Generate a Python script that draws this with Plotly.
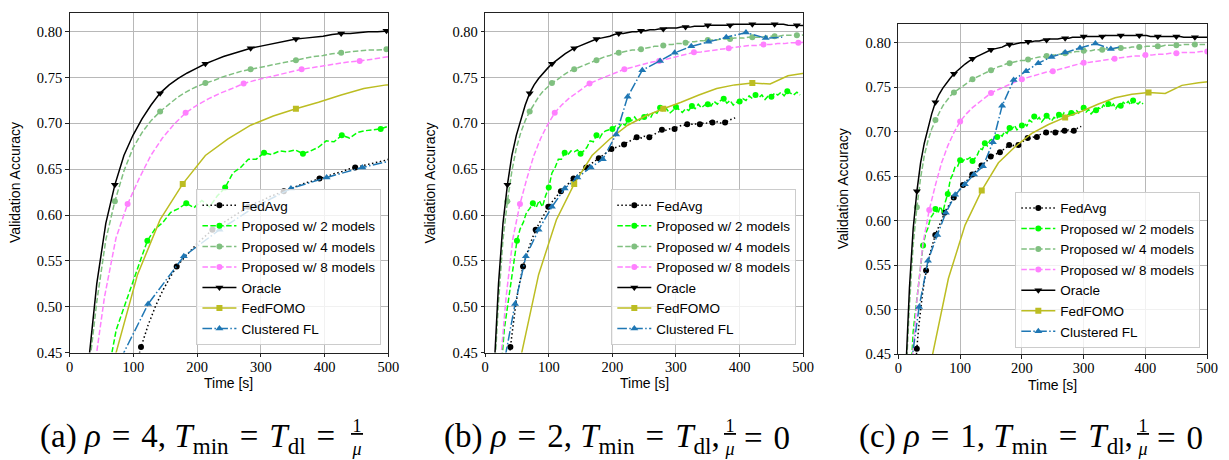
import plotly.graph_objects as go

W, H = 1229, 460

# ---------------- data ----------------
# validation accuracy per training round (same runs shown in all three panels)
oracle_acc = [0.10, 0.28, 0.43, 0.525, 0.591, 0.633, 0.665, 0.687, 0.705, 0.720,
              0.733, 0.742, 0.749, 0.755, 0.760, 0.765, 0.769, 0.773, 0.776, 0.779,
              0.782, 0.784, 0.786, 0.788, 0.790, 0.792, 0.793, 0.794, 0.795, 0.797,
              0.798, 0.798, 0.799, 0.800, 0.800, 0.801, 0.801, 0.802, 0.802, 0.803,
              0.803, 0.804, 0.804, 0.804, 0.805, 0.805, 0.805, 0.806, 0.806, 0.806,
              0.807, 0.807, 0.807, 0.807, 0.807, 0.807, 0.808, 0.808, 0.808, 0.808,
              0.808, 0.808, 0.808, 0.808, 0.808, 0.808, 0.808, 0.808, 0.807, 0.807,
              0.807, 0.807, 0.807, 0.807, 0.807, 0.807, 0.807, 0.806, 0.806, 0.806,
              0.806, 0.806, 0.806, 0.806, 0.806]
prop4_acc = [0.10, 0.25, 0.42, 0.505, 0.573, 0.615, 0.648, 0.673, 0.690, 0.703,
             0.713, 0.721, 0.729, 0.735, 0.740, 0.744, 0.747, 0.751, 0.754, 0.757,
             0.759, 0.761, 0.763, 0.765, 0.767, 0.769, 0.771, 0.773, 0.774, 0.776,
             0.777, 0.778, 0.779, 0.780, 0.780, 0.781, 0.782, 0.783, 0.784, 0.784,
             0.785, 0.786, 0.786, 0.787, 0.787, 0.788, 0.789, 0.789, 0.790, 0.790,
             0.791, 0.791, 0.791, 0.792, 0.792, 0.792, 0.793, 0.793, 0.793, 0.794,
             0.794, 0.794, 0.794, 0.795, 0.795, 0.795, 0.795, 0.796, 0.796, 0.796,
             0.796, 0.796, 0.797, 0.797, 0.797, 0.797, 0.797, 0.798, 0.798, 0.798,
             0.798, 0.798, 0.798, 0.798, 0.798]
prop8_acc = [0.10, 0.22, 0.42, 0.51, 0.575, 0.612, 0.640, 0.665, 0.684, 0.699,
             0.7115, 0.720, 0.727, 0.733, 0.738, 0.7435, 0.747, 0.750, 0.753, 0.756,
             0.759, 0.761, 0.763, 0.765, 0.767, 0.768, 0.770, 0.772, 0.774, 0.776,
             0.7775, 0.778, 0.779, 0.780, 0.781, 0.782, 0.783, 0.784, 0.785, 0.785,
             0.786, 0.786, 0.787, 0.787, 0.788, 0.788, 0.789, 0.789, 0.789, 0.790,
             0.790, 0.791]
prop2_acc = [0.10, 0.15, 0.22, 0.30, 0.37, 0.43, 0.475, 0.50, 0.524, 0.548,
             0.572, 0.585, 0.592, 0.603, 0.607, 0.613, 0.608, 0.616, 0.609, 0.621,
             0.630, 0.646, 0.652, 0.661, 0.661, 0.668, 0.666, 0.670, 0.669, 0.671,
             0.667, 0.670, 0.674, 0.681, 0.680, 0.687, 0.684, 0.690, 0.692, 0.693,
             0.694, 0.697, 0.695, 0.700, 0.698, 0.704, 0.703, 0.707, 0.702, 0.705,
             0.707, 0.710, 0.706, 0.713, 0.711, 0.717, 0.713, 0.716, 0.711, 0.714,
             0.718, 0.715, 0.712, 0.716, 0.714, 0.719, 0.716, 0.721, 0.717, 0.720,
             0.721, 0.719, 0.724, 0.721, 0.725, 0.727, 0.722, 0.725, 0.720, 0.723,
             0.724, 0.727, 0.725, 0.730, 0.727, 0.731, 0.728, 0.731, 0.726, 0.730,
             0.729, 0.733, 0.731, 0.734, 0.730, 0.735, 0.733, 0.731, 0.734, 0.731]
fedavg_acc = [0.10, 0.13, 0.16, 0.19, 0.23, 0.27, 0.31, 0.35, 0.39, 0.425,
              0.456, 0.480, 0.500, 0.517, 0.531, 0.544, 0.553, 0.562, 0.570, 0.577,
              0.584, 0.589, 0.594, 0.599, 0.604, 0.609, 0.613, 0.616, 0.620, 0.623,
              0.626, 0.629, 0.632, 0.635, 0.637, 0.640, 0.642, 0.645, 0.647, 0.650,
              0.652, 0.654, 0.656, 0.658, 0.660, 0.662, 0.664, 0.666, 0.668, 0.670,
              0.672, 0.673, 0.674, 0.675, 0.676, 0.677, 0.679, 0.680, 0.682, 0.683,
              0.685, 0.685, 0.684, 0.686, 0.685, 0.685, 0.687, 0.688, 0.690, 0.691,
              0.693, 0.692, 0.693, 0.694, 0.693, 0.694, 0.696, 0.697, 0.698, 0.698,
              0.699, 0.700, 0.699, 0.700, 0.698, 0.699, 0.700, 0.701, 0.700, 0.702,
              0.701, 0.700, 0.702, 0.701, 0.699, 0.701, 0.703, 0.704, 0.705, 0.706]
fedfomo_acc = [0.10, 0.25, 0.445, 0.535, 0.595, 0.634, 0.665, 0.683, 0.698, 0.708,
               0.716, 0.723, 0.731, 0.738, 0.742, 0.744, 0.743, 0.752, 0.755, 0.757]
# Clustered FL: accuracy every 5th round (its round length varies)
cfl_acc = [0.10, 0.425, 0.503, 0.555, 0.584, 0.609, 0.629, 0.641, 0.652, 0.661,
           0.688, 0.729, 0.758, 0.768, 0.777, 0.784, 0.789, 0.794, 0.799, 0.793]
cfl_time_a = [11.2, 67.2, 123.2, 179.2, 235.2, 291.2, 347.2, 403.2, 459.2, 515.2]
cfl_time_b = [4, 26, 47, 64, 84, 105, 125, 145, 166, 185,
              206, 224, 247, 275, 298, 324, 351, 379, 410, 441]
cfl_time_c = [3, 18, 33.6, 48, 63, 77, 92, 107.7, 122.6, 137,
              153, 168, 186.6, 206.8, 226.5, 248, 270, 294, 319, 344]
cfl_end_time = [None, 467, 357]
cfl_end_acc = [None, 0.794, 0.795]

# seconds per round in panels (a), (b), (c)
oracle_sec = [14.2, 7.0, 6.0]
prop4_sec = [14.2, 7.0, 6.0]
prop8_sec = [18.2, 10.94, 10.0]
prop2_sec = [12.2, 5.0, 4.0]
fedavg_sec = [11.2, 3.97, 2.99]
fedfomo_sec = [35.5, 28.0, 27.0]

names = ["FedAvg", "Proposed w/ 2 models", "Proposed w/ 4 models",
         "Proposed w/ 8 models", "Oracle", "FedFOMO", "Clustered FL"]
x_ticks = [0, 100, 200, 300, 400, 500]
x_tick_labels = ["0", "100", "200", "300", "400", "500"]
y_ticks = [0.45, 0.50, 0.55, 0.60, 0.65, 0.70, 0.75, 0.80]
y_tick_labels = ["0.45", "0.50", "0.55", "0.60", "0.65", "0.70", "0.75", "0.80"]

# ---------------- styling ----------------
COLORS = ["black", "#00ff00", "#80c080", "#ff80ff", "black", "#bcbd22", "#1f77b4"]
DASHES = ["1.5px,2.5px", "5.5px,2.4px", "5.5px,2.4px", "5.5px,2.4px", "solid",
          "solid", "9.6px,2.4px,1.5px,2.4px"]
SYMBOLS = ["circle", "circle", "circle", "circle", "triangle-down", "square", "triangle-up"]
SIZES = [6, 6, 6, 6, 7, 6, 7]

# plot-area boxes in pixels: left, right, top, bottom
BOX = [(58.3, 381.0, 5.0, 350.7), (479.0, 801.0, 5.0, 350.7), (897.3, 1210.0, 16.7, 352.3)]
LEG = [(374.0, 343.0), (794.0, 343.0), (1203.0, 345.7)]
SERIF = "Liberation Serif"
SANS = "Liberation Sans"

fig = go.Figure()


def add(p, k, x, y, every=5, n_marked=None):
    n = len(x)
    lim = n if n_marked is None else n_marked
    col = COLORS[k]
    mcol = [col if (i % every == 0 and i < lim) else "rgba(0,0,0,0)" for i in range(n)]
    sfx = "" if p == 0 else str(p + 1)
    fig.add_trace(go.Scatter(
        x=x, y=y, mode="lines+markers", name=names[k],
        line=dict(color=col, width=1.5, dash=DASHES[k]),
        marker=dict(symbol=SYMBOLS[k], size=SIZES[k], color=mcol, line=dict(width=0)),
        xaxis="x" + sfx, yaxis="y" + sfx, legend="legend" + sfx, cliponaxis=True,
    ))


def rounds_x(acc, sec):
    return [round(sec * i, 3) for i in range(len(acc))]


cfl_times = [cfl_time_a, cfl_time_b, cfl_time_c]
for p in range(3):
    add(p, 0, rounds_x(fedavg_acc, fedavg_sec[p]), fedavg_acc)
    add(p, 1, rounds_x(prop2_acc, prop2_sec[p]), prop2_acc)
    add(p, 2, rounds_x(prop4_acc, prop4_sec[p]), prop4_acc)
    add(p, 3, rounds_x(prop8_acc, prop8_sec[p]), prop8_acc)
    add(p, 4, rounds_x(oracle_acc, oracle_sec[p]), oracle_acc)
    add(p, 5, rounds_x(fedfomo_acc, fedfomo_sec[p]), fedfomo_acc)
    ct = list(cfl_times[p])
    ca = list(cfl_acc[:len(ct)])
    nm = len(ct)
    if cfl_end_time[p] is not None:
        ct.append(cfl_end_time[p])
        ca.append(cfl_end_acc[p])
    add(p, 6, ct, ca, every=1, n_marked=nm)

layout = dict(width=W, height=H, margin=dict(l=0, r=0, t=0, b=0),
              plot_bgcolor="white", paper_bgcolor="white", showlegend=True)
annotations = []
for p in range(3):
    l, r, t, b = BOX[p]
    sfx = "" if p == 0 else str(p + 1)
    common = dict(showgrid=True, gridcolor="#b8b8b8", gridwidth=1, showline=True,
                  mirror=True, linecolor="#222222", linewidth=1, ticks="outside",
                  ticklen=3.5, tickwidth=1, tickcolor="#222222", zeroline=False,
                  tickfont=dict(family=SERIF, size=14.5, color="black"))
    layout["xaxis" + sfx] = dict(domain=[l / W, r / W], anchor="y" + sfx, range=[0, 500],
                                 tickvals=x_ticks, ticktext=x_tick_labels,
                                 ticklabelstandoff=-3, **common)
    layout["yaxis" + sfx] = dict(domain=[1 - b / H, 1 - t / H], anchor="x" + sfx,
                                 range=[0.45, 0.8205], tickvals=y_ticks,
                                 ticktext=y_tick_labels, **common)
    lx, ly = LEG[p]
    layout["legend" + sfx] = dict(x=lx / W, y=1 - ly / H, xref="paper", yref="paper",
                                  xanchor="right", yanchor="bottom",
                                  bgcolor="rgba(255,255,255,0.8)", bordercolor="#cccccc",
                                  borderwidth=1, tracegroupgap=0, itemwidth=34,
                                  font=dict(family=SANS, size=13.5, color="black"))
    # axis titles
    annotations.append(dict(text="Time [s]", x=((l + r) / 2) / W, y=1 - (b + 31) / H,
                            xref="paper", yref="paper", showarrow=False,
                            xanchor="center", yanchor="middle",
                            font=dict(family=SANS, size=14, color="black")))
    annotations.append(dict(text="Validation Accuracy", x=(l - 56) / W, y=1 - ((t + b) / 2) / H,
                            xref="paper", yref="paper", showarrow=False, textangle=-90,
                            xanchor="center", yanchor="middle",
                            font=dict(family=SANS, size=14, color="black")))

# captions
CAP_Y = 438
cap_font = dict(family=SERIF, size=33, color="black")
frac_font = dict(family=SERIF, size=18, color="black")
EQ = "\u2004=\u2004"
captions = [
    ("(a) <i>ρ</i>" + EQ + "4, <i>T</i><sub>min</sub>" + EQ + "<i>T</i><sub>dl</sub>\u2004=",
     329, 349, None, None),
    ("(b) <i>ρ</i>" + EQ + "2, <i>T</i><sub>min</sub>" + EQ + "<i>T</i><sub>dl</sub>,",
     719, 727, "=\u20040", 739),
    ("(c) <i>ρ</i>" + EQ + "1, <i>T</i><sub>min</sub>" + EQ + "<i>T</i><sub>dl</sub>,",
     1137, 1145, "=\u20040", 1157),
]
for left_txt, lx, fx, right_txt, rx in captions:
    annotations.append(dict(text=left_txt, x=lx / W, y=1 - CAP_Y / H, xref="paper", yref="paper",
                            showarrow=False, xanchor="right", yanchor="middle", font=cap_font))
    annotations.append(dict(text="<u>\u200a1\u200a</u><br><i>μ</i>", x=fx / W, y=1 - 437 / H,
                            xref="paper", yref="paper", showarrow=False, xanchor="center",
                            yanchor="middle", font=frac_font))
    if right_txt:
        annotations.append(dict(text=right_txt, x=rx / W, y=1 - CAP_Y / H, xref="paper",
                                yref="paper", showarrow=False, xanchor="left",
                                yanchor="middle", font=cap_font))
layout["annotations"] = annotations
fig.update_layout(**layout)
fig.write_html("out.html")
